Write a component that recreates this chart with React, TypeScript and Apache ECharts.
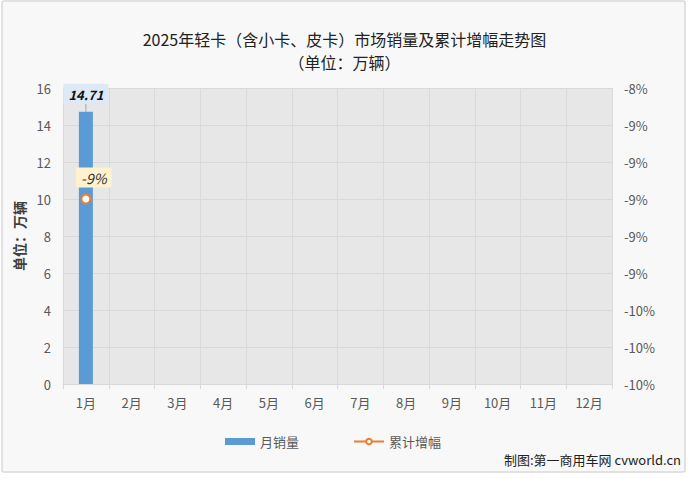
import React, { useEffect, useRef } from "react";
import * as echarts from "echarts";

const months = ["1月", "2月", "3月", "4月", "5月", "6月", "7月", "8月", "9月", "10月", "11月", "12月"];
const monthlySales = [14.71];
const cumulativeGrowth = [-9.0];

const FONT = "'Noto Sans CJK SC', 'Noto Sans', sans-serif";

const App = () => {
  const chartRef = useRef(null);

  useEffect(() => {
    const chart = echarts.init(chartRef.current, null, { renderer: "svg" });

    const option = {
      animation: false,
      backgroundColor: "#ffffff",
      textStyle: { fontFamily: FONT },
      graphic: [
        {
          type: "rect",
          z: -10,
          shape: { x: 2, y: 1, width: 683, height: 471, r: 2 },
          style: { fill: "#f8f8f8", stroke: "#d9d9d9", lineWidth: 1.5 },
        },
        {
          type: "text",
          right: 8,
          top: 453,
          style: {
            text: "制图:第一商用车网 cvworld.cn",
            fill: "#222",
            font: `13px ${FONT}`,
          },
        },
      ],
      title: [
        {
          text: "2025年轻卡（含小卡、皮卡）市场销量及累计增幅走势图",
          left: "center",
          top: 29,
          padding: 0,
          textStyle: { fontSize: 16, fontWeight: "normal", color: "#222", fontFamily: FONT, lineHeight: 20 },
        },
        {
          text: "（单位：万辆）",
          left: "center",
          top: 52,
          padding: 0,
          textStyle: { fontSize: 16, fontWeight: "normal", color: "#222", fontFamily: FONT, lineHeight: 20 },
        },
      ],
      legend: {
        bottom: 30,
        left: 225,
        itemGap: 54,
        itemWidth: 30,
        itemHeight: 7,
        padding: 0,
        textStyle: { color: "#595959", fontSize: 13 },
        data: [
          { name: "月销量", icon: "rect" },
          { name: "累计增幅" },
        ],
      },
      grid: { left: 63, right: 77, top: 88, bottom: 94 },
      xAxis: {
        type: "category",
        data: months,
        axisLine: { lineStyle: { color: "#d9d9d9" } },
        axisTick: { show: true, lineStyle: { color: "#d9d9d9" }, length: 5 },
        axisLabel: { color: "#595959", fontSize: 13, margin: 12 },
        splitLine: { show: true, lineStyle: { color: "#d9d9d9" } },
      },
      yAxis: [
        {
          type: "value",
          min: 0,
          max: 16,
          interval: 2,
          name: "单位：万辆",
          nameLocation: "middle",
          nameGap: 32,
          nameTextStyle: { color: "#404040", fontSize: 14, fontWeight: "bold" },
          axisLabel: { color: "#595959", fontSize: 13, margin: 12 },
          axisLine: { show: false },
          axisTick: { show: false },
          splitLine: { lineStyle: { color: "#d9d9d9" } },
          splitArea: { show: true, areaStyle: { color: ["#e7e7e7", "#e7e7e7"] } },
        },
        {
          type: "value",
          min: -10,
          max: -8.4,
          interval: 0.2,
          position: "right",
          axisLabel: {
            color: "#595959",
            fontSize: 13,
            margin: 12,
            formatter: (v: number) => Math.round(v) + "%",
          },
          axisLine: { show: false },
          axisTick: { show: false },
          splitLine: { show: false },
        },
      ],
      series: [
        {
          name: "月销量",
          type: "bar",
          data: monthlySales,
          barWidth: 14,
          itemStyle: { color: "#5b9bd5" },
          label: {
            show: true,
            position: "top",
            distance: 0,
            formatter: (p: any) => p.value.toFixed(2),
            fontStyle: "italic",
            fontWeight: "bold",
            fontSize: 13,
            color: "#111",
            backgroundColor: "#dde9f6",
            padding: [4, 5, 3, 5],
          },
          labelLayout: { dy: -8 },
          labelLine: { show: true, lineStyle: { color: "#a6a6a6", width: 1 } },
        },
        {
          name: "累计增幅",
          type: "line",
          yAxisIndex: 1,
          data: cumulativeGrowth,
          symbol: "circle",
          symbolSize: 9,
          lineStyle: { color: "#ed7d31", width: 2.5 },
          itemStyle: { color: "#ffffff", borderColor: "#ed7d31", borderWidth: 2 },
          label: {
            show: true,
            position: "top",
            distance: 6,
            offset: [8, 0],
            formatter: (p: any) => Math.round(p.value) + "%",
            fontStyle: "italic",
            fontSize: 14,
            color: "#333",
            backgroundColor: "#fff2cc",
            padding: [3, 5, 3, 5],
          },
        },
      ],
    };
    chart.setOption(option);
    return () => {
      chart.dispose();
    };
  }, []);

  return (
    <div
      ref={chartRef}
      style={{ position: "fixed", left: 0, top: 0, width: "689px", height: "478px" }}
    />
  );
};

export default App;
